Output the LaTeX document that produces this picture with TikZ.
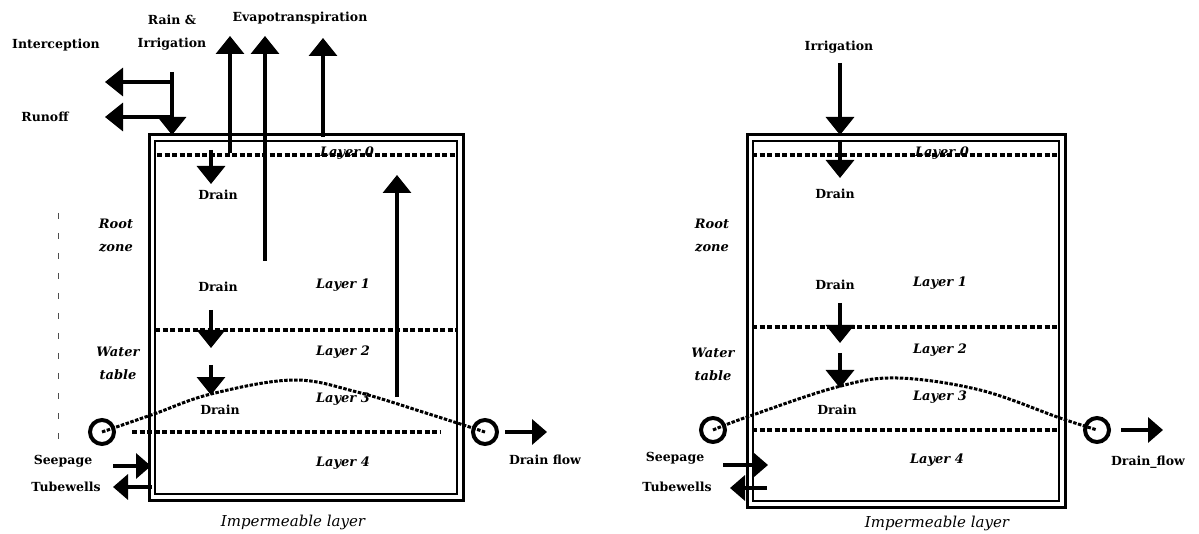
\documentclass[tikz,border=0pt]{standalone}
\usepackage{fontspec}
\setmainfont{DejaVu Serif}
\usetikzlibrary{arrows.meta}
\begin{document}
\begin{tikzpicture}[x=1pt,y=-1pt,
  lbl/.style={font=\fontsize{12.5}{23}\selectfont\bfseries, inner sep=0pt, align=center},
  ital/.style={font=\fontsize{13}{23}\selectfont\bfseries\itshape, inner sep=0pt, align=center},
  imp/.style={font=\fontsize{15}{16}\selectfont\itshape, inner sep=0pt},
  flow/.style={line width=3.5pt, -{Triangle[length=18pt,width=28pt]}},
  sflow/.style={line width=3.5pt, -{Triangle[length=15pt,width=25pt]}},
  layerline/.style={line width=4pt, dash pattern=on 5pt off 2.5pt},
  wt/.style={line width=3pt, dash pattern=on 3.5pt off 1.5pt},
  outerbox/.style={line width=3pt},
  innerbox/.style={line width=2pt},
  drainc/.style={circle, draw, line width=4pt, minimum size=24pt, inner sep=0pt},
  faint/.style={line width=0.9pt, black!70, dash pattern=on 6pt off 14pt}
]
\useasboundingbox (0,0) rectangle (1199,534);

% ================= LEFT PANEL =================
\draw[outerbox] (149,135) rectangle (463,500);
\draw[innerbox] (155,141) rectangle (457,494);
\draw[faint] (58,213) -- (58,440);

% layer lines
\draw[layerline] (157,155) -- (457,155);
\draw[layerline] (155,330) -- (457,330);
\draw[layerline] (132,432) -- (440,432);

% drains (circles)
\node[drainc] (dcL1) at (102,432) {};
\node[drainc] (dcL2) at (485,432) {};
\draw[wt] plot[smooth, tension=0.6] coordinates {(102,432) (154,414) (211,394) (293,380) (357,392) (429,414) (485,432)};

% labels
\node[lbl] (rain) at (172,33) {Rain \&\\Irrigation};
\node[lbl] (evap) at (300,18) {Evapotranspiration};
\node[lbl] (interc) at (56,45) {Interception};
\node[lbl] (runoff) at (45,117) {Runoff};
\node[lbl] (drL1) at (218,195) {Drain};
\node[lbl] (drL2) at (218,287) {Drain};
\node[lbl] (drL3) at (220,410) {Drain};
\node[ital] (rootL) at (116,236) {Root\\zone};
\node[ital] (waterL) at (118,363) {Water\\table};
\node[ital] (l0L) at (347,153) {Layer 0};
\node[ital] (l1L) at (343,285) {Layer 1};
\node[ital] (l2L) at (343,352) {Layer 2};
\node[ital] (l3L) at (343,399) {Layer 3};
\node[ital] (l4L) at (343,463) {Layer 4};
\node[lbl] (seepL) at (63,461) {Seepage};
\node[lbl] (tubeL) at (66,487) {Tubewells};
\node[lbl] (dflowL) at (545,460) {Drain flow};
\node[imp] (impL) at (293,522) {Impermeable layer};

% arrows
\coordinate (rainA) at (172,72);  \coordinate (rainB) at (172,135);
\coordinate (intA) at (172,82);   \coordinate (intB) at (105,82);
\coordinate (runA) at (172,117);  \coordinate (runB) at (105,117);
\coordinate (ev1A) at (230,153);  \coordinate (ev1B) at (230,36);
\coordinate (ev2A) at (265,261);  \coordinate (ev2B) at (265,36);
\coordinate (ev3A) at (323,137);  \coordinate (ev3B) at (323,38);
\coordinate (d1A) at (211,150);   \coordinate (d1B) at (211,184);
\coordinate (d2A) at (211,310);   \coordinate (d2B) at (211,348);
\coordinate (d3A) at (211,365);   \coordinate (d3B) at (211,395);
\coordinate (upA) at (397,397);   \coordinate (upB) at (397,175);
\coordinate (seA) at (113,466);   \coordinate (seB) at (151,466);
\coordinate (tuA) at (152,487);   \coordinate (tuB) at (113,487);
\coordinate (dfB) at (547,432);
\draw[line width=3.5pt] (rainA) -- (runA);
\draw[flow] (runA) -- (rainB);
\draw[flow] (intA) -- (intB);
\draw[flow] (runA) -- (runB);
\draw[flow] (ev1A) -- (ev1B);
\draw[flow] (ev2A) -- (ev2B);
\draw[flow] (ev3A) -- (ev3B);
\draw[flow] (d1A) -- (d1B);
\draw[flow] (d2A) -- (d2B);
\draw[flow] (d3A) -- (d3B);
\draw[flow] (upA) -- (upB);
\draw[sflow] (seA) -- (seB);
\draw[sflow] (tuA) -- (tuB);
\draw[sflow] (dcL2.east) ++(6,0) coordinate (dfA) -- (dfB);

% ================= RIGHT PANEL =================
\draw[outerbox] (747,135) rectangle (1065,507);
\draw[innerbox] (753,141) rectangle (1059,501);

\draw[layerline] (752,155) -- (1058,155);
\draw[layerline] (752,327) -- (1058,327);
\draw[layerline] (752,430) -- (1058,430);

\node[drainc] (dcR1) at (713,430) {};
\node[drainc] (dcR2) at (1097,430) {};
\draw[wt] plot[smooth, tension=0.6] coordinates {(713,430) (747,417) (837,387) (897,378) (980,390) (1060,418) (1097,430)};

\node[lbl] (irrR) at (839,47) {Irrigation};
\node[lbl] (drR1) at (835,194) {Drain};
\node[lbl] (drR2) at (835,285) {Drain};
\node[lbl] (drR3) at (837,410) {Drain};
\node[ital] (rootR) at (712,236) {Root\\zone};
\node[ital] (waterR) at (713,364) {Water\\table};
\node[ital] (l0R) at (942,153) {Layer 0};
\node[ital] (l1R) at (940,283) {Layer 1};
\node[ital] (l2R) at (940,350) {Layer 2};
\node[ital] (l3R) at (940,397) {Layer 3};
\node[ital] (l4R) at (937,460) {Layer 4};
\node[lbl] (seepR) at (675,458) {Seepage};
\node[lbl] (tubeR) at (677,487) {Tubewells};
\node[lbl] (dflowR) at (1148,462) {Drain\_flow};
\node[imp] (impR) at (937,523) {Impermeable layer};

\coordinate (r1A) at (840,63);   \coordinate (r1B) at (840,135);
\coordinate (r2A) at (840,140);  \coordinate (r2B) at (840,178);
\coordinate (r3A) at (840,303);  \coordinate (r3B) at (840,343);
\coordinate (r4A) at (840,353);  \coordinate (r4B) at (840,388);
\coordinate (rseA) at (723,465); \coordinate (rseB) at (768,465);
\coordinate (rtuA) at (767,488); \coordinate (rtuB) at (730,488);
\coordinate (rdfB) at (1163,430);
\draw[flow] (r1A) -- (r1B);
\draw[flow] (r2A) -- (r2B);
\draw[flow] (r3A) -- (r3B);
\draw[flow] (r4A) -- (r4B);
\draw[sflow] (rseA) -- (rseB);
\draw[sflow] (rtuA) -- (rtuB);
\draw[sflow] (dcR2.east) ++(10,0) coordinate (rdfA) -- (rdfB);
\end{tikzpicture}
\end{document}
